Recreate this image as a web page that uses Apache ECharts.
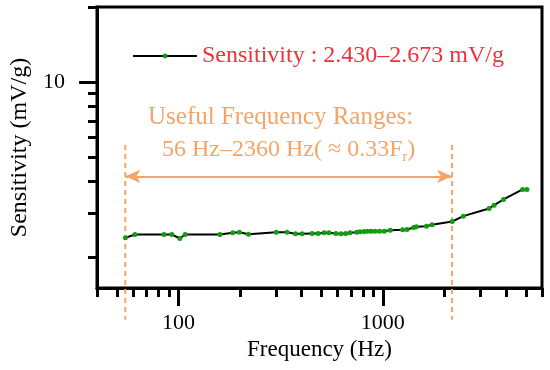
<!DOCTYPE html>
<html>
<head>
<meta charset="utf-8">
<script src="https://cdn.jsdelivr.net/npm/echarts@6/dist/echarts.min.js"></script>
<style>
  html, body { margin: 0; padding: 0; background: #fff; }
  #main { width: 550px; height: 370px; }
</style>
</head>
<body>
<div id="main"></div>
<script>
// measured sensitivity curve
var freq = [55.1, 61.3, 85.1, 92.8, 101.6, 107.9, 159.7, 184.4, 198.8, 220.2, 301.1, 339.8, 373.4, 402.7,
  450.8, 482.6, 516.4, 544.5, 589.3, 623.7, 657.7, 690.5, 744.7, 773.3, 809, 840.4, 875.9, 916.6, 962.5,
  1015, 1086, 1249, 1312, 1414, 1458, 1633, 1741, 2183, 2473, 3306, 3499, 3890, 4823, 5064];
var sens = [2.382, 2.457, 2.457, 2.457, 2.367, 2.457, 2.457, 2.495, 2.51, 2.464, 2.51, 2.51, 2.472, 2.472,
  2.479, 2.479, 2.495, 2.495, 2.479, 2.472, 2.479, 2.495, 2.51, 2.518, 2.526, 2.533, 2.533, 2.533, 2.533,
  2.533, 2.557, 2.565, 2.573, 2.62, 2.636, 2.653, 2.686, 2.769, 2.909, 3.122, 3.219, 3.392, 3.72, 3.72];

// useful range markers (frequency), arrow level and dashed line extent (sensitivity)
var rangeFreq = [55, 2180];
var arrowLevel = 4.2;
var dashTop = 5.6;
var dashBottom = 1.12;

// axis ticks
var xMajor = [100, 1000];
var xMinor = [40, 50, 60, 70, 80, 90, 200, 300, 400, 500, 600, 700, 800, 900, 2000, 3000, 4000, 5000, 6000];
var yMajor = [10];
var yMinor = [2, 3, 4, 5, 6, 7, 8, 9, 20];

var ORANGE = '#f5a468';
var RED = '#f0303c';
var GREEN = '#119c11';
var FONT = 'Liberation Serif';

var chart = echarts.init(document.getElementById('main'));

var data = freq.map(function (f, i) { return [f, sens[i]]; });

chart.setOption({
  animation: false,
  grid: { left: 97, right: 8, top: 7, bottom: 82, show: true, borderColor: '#000', borderWidth: 3 },
  legend: {
    left: 127, top: 39,
    itemWidth: 64, itemHeight: 6, itemGap: 0,
    textStyle: { color: RED, fontFamily: FONT, fontSize: 24 },
    data: ['Sensitivity : 2.430–2.673 mV/g']
  },
  xAxis: [{
    type: 'log', min: 40, max: 6000, position: 'bottom',
    name: 'Frequency (Hz)', nameLocation: 'middle', nameGap: 47,
    nameTextStyle: { color: '#000', fontFamily: FONT, fontSize: 23 },
    axisLine: { lineStyle: { color: '#000', width: 3 } },
    axisTick: { customValues: xMajor, length: 18, lineStyle: { color: '#000', width: 3 } },
    axisLabel: {
      customValues: xMajor, margin: 24, color: '#000', fontFamily: FONT, fontSize: 22,
      formatter: function (v) { return String(Math.round(v)); }
    },
    splitLine: { show: false }
  }, {
    type: 'log', min: 40, max: 6000, position: 'bottom',
    axisLine: { show: false },
    axisTick: { customValues: xMinor, length: 9, lineStyle: { color: '#000', width: 3 } },
    axisLabel: { show: false },
    splitLine: { show: false }
  }],
  yAxis: [{
    type: 'log', min: 1.5, max: 20, position: 'left',
    name: 'Sensitivity (mV/g)', nameLocation: 'middle', nameGap: 64,
    nameTextStyle: { color: '#000', fontFamily: FONT, fontSize: 24 },
    axisLine: { lineStyle: { color: '#000', width: 3 } },
    axisTick: { customValues: yMajor, length: 18, lineStyle: { color: '#000', width: 3 } },
    axisLabel: { customValues: yMajor, margin: 32, color: '#000', fontFamily: FONT, fontSize: 22 },
    splitLine: { show: false }
  }, {
    type: 'log', min: 1.5, max: 20, position: 'left',
    axisLine: { show: false },
    axisTick: { customValues: yMinor, length: 9, lineStyle: { color: '#000', width: 3 } },
    axisLabel: { show: false },
    splitLine: { show: false }
  }],
  graphic: [{
    type: 'text', left: 148, top: 105,
    style: { text: 'Useful Frequency Ranges:', fill: ORANGE, font: '25px "Liberation Serif"' }
  }, {
    type: 'text', left: 162, top: 138,
    style: {
      text: '{a|56 Hz–2360 Hz( ≈ 0.33F}{s|r}{a|)}',
      rich: {
        a: { fill: ORANGE, fontFamily: FONT, fontSize: 24, lineHeight: 28 },
        s: { fill: ORANGE, fontFamily: FONT, fontSize: 14, lineHeight: 14, verticalAlign: 'bottom' }
      }
    }
  }],
  series: [{
    name: 'Sensitivity : 2.430–2.673 mV/g',
    type: 'line',
    xAxisIndex: 0, yAxisIndex: 0,
    data: data,
    symbol: 'circle', symbolSize: 5,
    lineStyle: { color: '#000', width: 2 },
    itemStyle: { color: GREEN },
    z: 5
  }, {
    type: 'custom',
    xAxisIndex: 0, yAxisIndex: 0,
    data: rangeFreq.map(function (f) { return [f]; }),
    renderItem: function (params, api) {
      var p1 = api.coord([api.value(0), dashTop]);
      var p2 = api.coord([api.value(0), dashBottom]);
      return {
        type: 'line',
        shape: { x1: p1[0], y1: p1[1], x2: p2[0], y2: p2[1] },
        style: { stroke: ORANGE, lineWidth: 2, lineDash: [5, 4] }
      };
    },
    markLine: {
      silent: true,
      symbol: ['arrow', 'arrow'],
      symbolSize: [10, 15],
      label: { show: false },
      lineStyle: { color: ORANGE, width: 2, type: 'solid' },
      data: [[{ coord: [rangeFreq[0], arrowLevel] }, { coord: [rangeFreq[1], arrowLevel] }]]
    },
    z: 3
  }]
});
</script>
</body>
</html>
